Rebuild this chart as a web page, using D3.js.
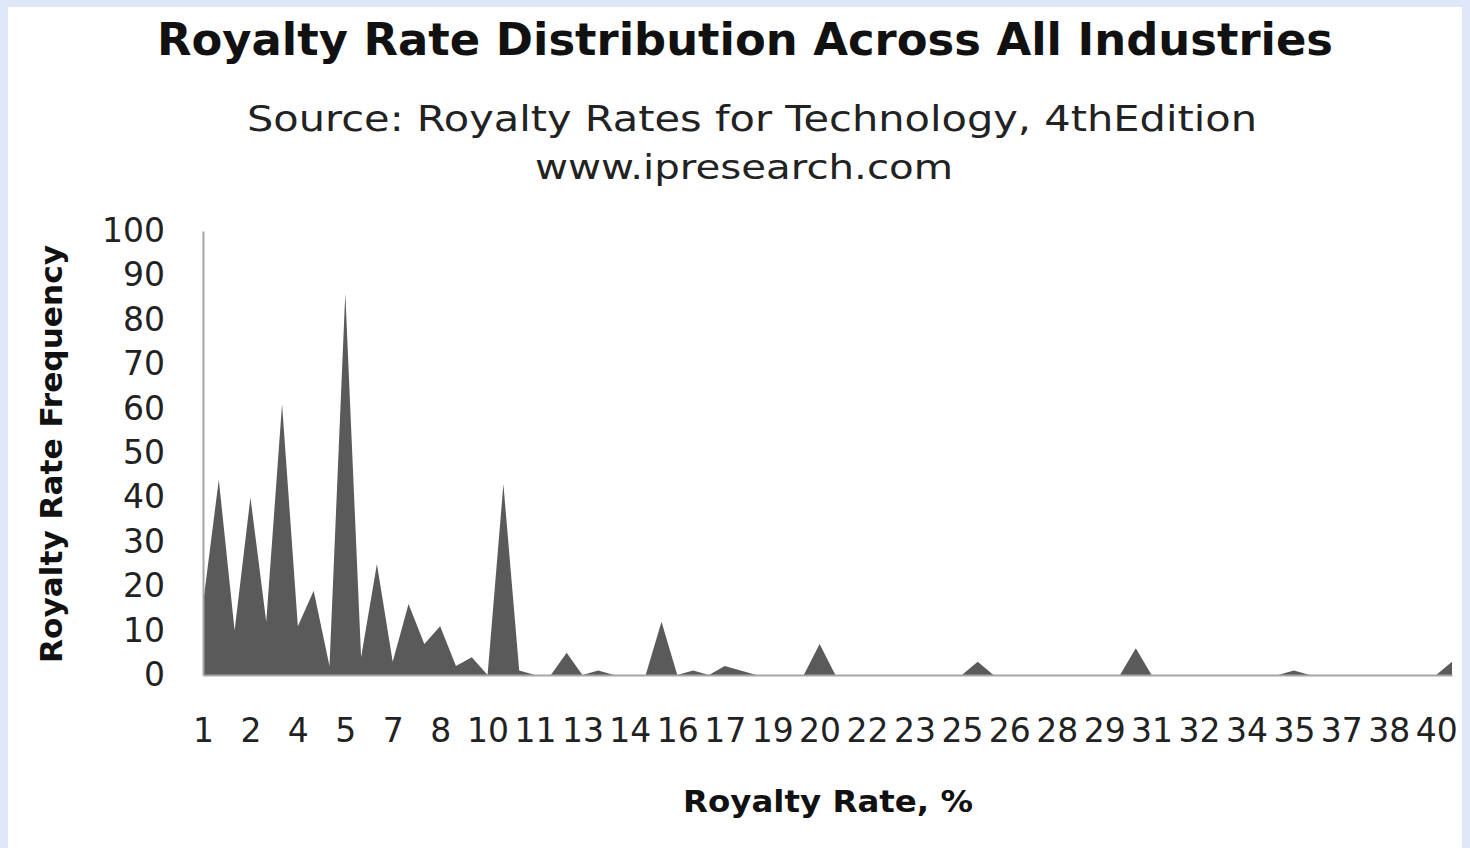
<!DOCTYPE html>
<html>
<head>
<meta charset="utf-8">
<script src="https://cdn.jsdelivr.net/npm/d3@7"></script>
<style>
 body { margin: 0; background: #dde7f8; }
 svg { display: block; }
</style>
</head>
<body>
<script>
const width = 1470;
const height = 848;

// royalty rate categories (%), one point every half percent
const rates = [0.5, 1, 1.5, 2, 2.5, 3, 3.5, 4, 4.5, 5,
 5.5, 6, 6.5, 7, 7.5, 8, 8.5, 9, 9.5, 10,
 10.5, 11, 11.5, 12, 12.5, 13, 13.5, 14, 14.5, 15,
 15.5, 16, 16.5, 17, 17.5, 18, 18.5, 19, 19.5, 20,
 20.5, 21, 21.5, 22, 22.5, 23, 23.5, 24, 24.5, 25,
 25.5, 26, 26.5, 27, 27.5, 28, 28.5, 29, 29.5, 30,
 30.5, 31, 31.5, 32, 32.5, 33, 33.5, 34, 34.5, 35,
 35.5, 36, 36.5, 37, 37.5, 38, 38.5, 39, 39.5, 40];

// frequency
const frequency = [16, 44, 10, 40, 12, 61, 11, 19, 2, 86,
 4, 25, 3, 16, 7, 11, 2, 4, 0, 43,
 1, 0, 0, 5, 0, 1, 0, 0, 0, 12,
 0, 1, 0, 2, 1, 0, 0, 0, 0, 7,
 0, 0, 0, 0, 0, 0, 0, 0, 0, 3,
 0, 0, 0, 0, 0, 0, 0, 0, 0, 6,
 0, 0, 0, 0, 0, 0, 0, 0, 0, 1,
 0, 0, 0, 0, 0, 0, 0, 0, 0, 3];

// every third category gets a label (as shown in the original)
const xTickLabels = ["1", "2", "4", "5", "7", "8", "10", "11", "13", "14",
 "16", "17", "19", "20", "22", "23", "25", "26", "28", "29",
 "31", "32", "34", "35", "37", "38", "40"];
const yTicks = [0, 10, 20, 30, 40, 50, 60, 70, 80, 90, 100];

const svg = d3.select("body").append("svg")
 .attr("width", width)
 .attr("height", height);

// white panel inside the blue frame
svg.append("rect")
 .attr("x", 8).attr("y", 7)
 .attr("width", 1454).attr("height", height - 7)
 .attr("fill", "#ffffff");

const font = "'DejaVu Sans', sans-serif";

svg.append("text")
 .attr("x", 745).attr("y", 55)
 .attr("text-anchor", "middle")
 .attr("font-family", font).attr("font-weight", "bold")
 .attr("font-size", 44)
 .attr("textLength", 1176).attr("lengthAdjust", "spacingAndGlyphs")
 .attr("fill", "#111")
 .text("Royalty Rate Distribution Across All Industries");

svg.append("text")
 .attr("x", 752).attr("y", 131)
 .attr("text-anchor", "middle")
 .attr("font-family", font)
 .attr("font-size", 36)
 .attr("textLength", 1010).attr("lengthAdjust", "spacingAndGlyphs")
 .attr("fill", "#222")
 .text("Source: Royalty Rates for Technology, 4thEdition");

svg.append("text")
 .attr("x", 744).attr("y", 179)
 .attr("text-anchor", "middle")
 .attr("font-family", font)
 .attr("font-size", 33)
 .attr("textLength", 418).attr("lengthAdjust", "spacingAndGlyphs")
 .attr("fill", "#222")
 .text("www.ipresearch.com");

const x = d3.scalePoint()
 .domain(rates)
 .range([203, 1452]);

const y = d3.scaleLinear()
 .domain([0, 100])
 .range([675, 231]);

const points = rates.map((r, i) => ({rate: r, value: frequency[i]}));

const area = d3.area()
 .x(d => x(d.rate))
 .y0(y(0))
 .y1(d => y(d.value));

svg.append("path")
 .datum(points)
 .attr("d", area)
 .attr("fill", "#5a5a5a");

// y axis
const yAxis = svg.append("g")
 .attr("transform", "translate(203,0)")
 .call(d3.axisLeft(y).tickValues(yTicks).tickSize(0).tickPadding(38));
yAxis.select(".domain").attr("stroke", "#a6a6a6").attr("stroke-width", 2);
yAxis.selectAll("text")
 .attr("font-family", font).attr("font-size", 33)
 .attr("fill", "#222");

// x axis
const xTickValues = rates.filter((d, i) => i % 3 === 0);
const xAxis = svg.append("g")
 .attr("transform", "translate(0," + y(0) + ")")
 .call(d3.axisBottom(x).tickValues(xTickValues).tickSize(0).tickPadding(44)
   .tickFormat((d, i) => xTickLabels[i]));
xAxis.select(".domain").attr("stroke", "#a6a6a6").attr("stroke-width", 2);
xAxis.selectAll("text")
 .attr("font-family", font).attr("font-size", 33)
 .attr("fill", "#222");

// axis titles
svg.append("text")
 .attr("transform", "translate(62,454) rotate(-90)")
 .attr("text-anchor", "middle")
 .attr("font-family", font).attr("font-weight", "bold")
 .attr("font-size", 31)
 .attr("textLength", 418).attr("lengthAdjust", "spacingAndGlyphs")
 .attr("fill", "#111")
 .text("Royalty  Rate  Frequency");

svg.append("text")
 .attr("x", 828).attr("y", 812)
 .attr("text-anchor", "middle")
 .attr("font-family", font).attr("font-weight", "bold")
 .attr("font-size", 31)
 .attr("textLength", 290).attr("lengthAdjust", "spacingAndGlyphs")
 .attr("fill", "#111")
 .text("Royalty Rate, %");
</script>
</body>
</html>
